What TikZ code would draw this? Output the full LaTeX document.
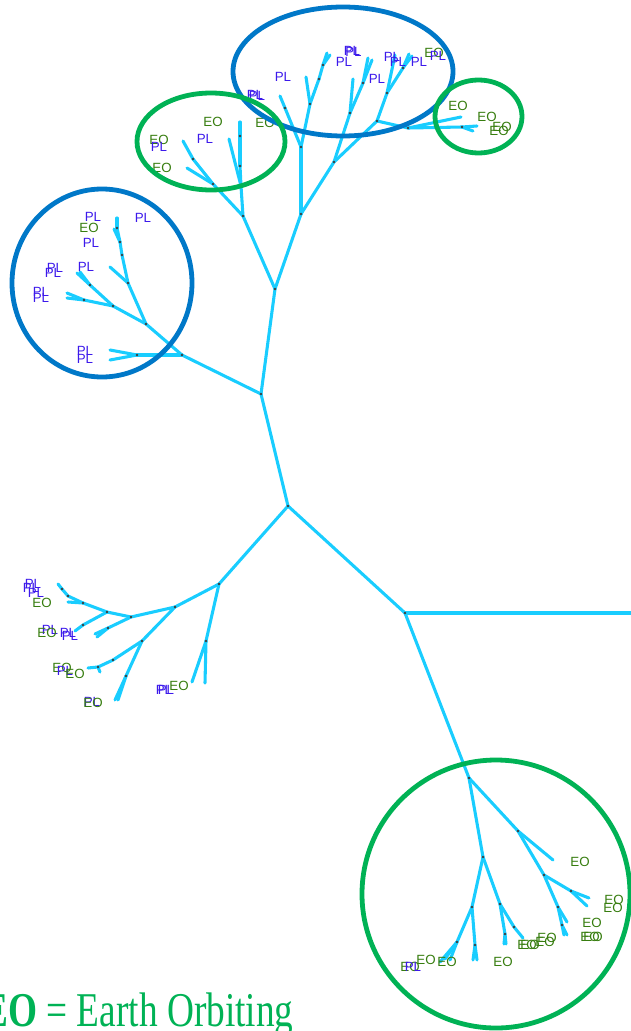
\documentclass[tikz,border=0pt]{standalone}
\usepackage{fontspec}
\setmainfont{Liberation Serif}
\newfontfamily\labfont{Liberation Sans}
\definecolor{brc}{RGB}{25,205,255}
\definecolor{plc}{RGB}{60,25,235}
\definecolor{eoc}{RGB}{55,125,15}
\definecolor{ringblue}{RGB}{0,120,200}
\definecolor{ringgreen}{RGB}{0,178,85}
\definecolor{dotc}{RGB}{60,60,60}
\begin{document}
\begin{tikzpicture}[x=0.75pt,y=-0.75pt,
  branch/.style={draw=brc,line width=2.3pt,line cap=round},
  pl/.style={text=plc,font=\labfont\fontsize{10}{11}\selectfont,inner sep=0pt},
  eo/.style={text=eoc,font=\labfont\fontsize{10}{11}\selectfont,inner sep=0pt},
  ringb/.style={draw=ringblue,line width=3.6pt},
  ringg/.style={draw=ringgreen,line width=3.6pt}]
\useasboundingbox (0,0) rectangle (631,1031);
\clip (0,0) rectangle (631,1031);
% ---------- tree points ----------
\coordinate (A) at (288,506);
\coordinate (B) at (261,394);
\coordinate (C) at (275,289);
\coordinate (D) at (182,355);
\coordinate (E) at (405,613);
\coordinate (Eend) at (640,613);
\coordinate (F) at (469,778);
\coordinate (G) at (219,584);
% top
\coordinate (H) at (243,216);
\coordinate (I) at (301,214);
\coordinate (J) at (301,147);
\coordinate (K) at (334,162);
\coordinate (J1) at (285,108);
\coordinate (t1) at (280,96);
\coordinate (J2) at (310,104);
\coordinate (t2) at (306,77);
\coordinate (J3) at (319,79);
\coordinate (J4) at (323,65);
\coordinate (t3) at (327,53);
\coordinate (t4) at (330,55);
\coordinate (K1) at (350,113);
\coordinate (t5) at (353,79);
\coordinate (K2) at (363,83);
\coordinate (t6) at (368,58);
\coordinate (t7) at (372,60);
\coordinate (N) at (377,121);
\coordinate (L) at (387,93);
\coordinate (t8) at (395,55);
\coordinate (L2) at (403,68);
\coordinate (t9) at (409,54);
\coordinate (t10) at (412,56);
\coordinate (P) at (408,128);
\coordinate (t11) at (461,117);
\coordinate (Q) at (462,127);
\coordinate (t12) at (477,126);
\coordinate (t13) at (473,131);
\coordinate (H1) at (213,184);
\coordinate (H2) at (193,159);
\coordinate (t14) at (183,141);
\coordinate (t15) at (187,168);
\coordinate (H3) at (240,166);
\coordinate (H4) at (240,136);
\coordinate (t16) at (240,122);
\coordinate (H5) at (241,186);
\coordinate (t17) at (229,139);
% left
\coordinate (D1) at (137,355);
\coordinate (t18) at (110,350);
\coordinate (t19) at (110,360);
\coordinate (D2) at (146,324);
\coordinate (D3) at (128,283);
\coordinate (D4) at (113,306);
\coordinate (D5) at (84,300);
\coordinate (t20) at (67,293);
\coordinate (t21) at (67,298);
\coordinate (D6) at (90,285);
\coordinate (t22) at (77,273);
\coordinate (t23) at (80,272);
\coordinate (t24) at (110,267);
\coordinate (D7) at (122,255);
\coordinate (D8) at (120,242);
\coordinate (D9) at (117,228);
\coordinate (t25) at (117,218);
\coordinate (t26) at (114,229);
% lower left
\coordinate (G1) at (206,641);
\coordinate (t27) at (192,682);
\coordinate (t28) at (205,683);
\coordinate (G2) at (175,607);
\coordinate (G3) at (131,617);
\coordinate (G4) at (142,641);
\coordinate (G5) at (126,676);
\coordinate (t29) at (115,700);
\coordinate (t30) at (118,700);
\coordinate (G6) at (113,660);
\coordinate (G7) at (98,667);
\coordinate (t31) at (88,668);
\coordinate (t32) at (100,672);
\coordinate (G8) at (107,612);
\coordinate (G9) at (83,603);
\coordinate (G10) at (68,596);
\coordinate (G11) at (62,589);
\coordinate (t33) at (58,584);
\coordinate (t34) at (68,602);
\coordinate (G12) at (83,625);
\coordinate (t35) at (75,631);
\coordinate (G13) at (108,628);
\coordinate (t36) at (95,634);
\coordinate (t37) at (97,637);
% bottom
\coordinate (F1) at (483,857);
\coordinate (F2) at (518,831);
\coordinate (t38) at (553,860);
\coordinate (F3) at (544,875);
\coordinate (F4) at (571,891);
\coordinate (t39) at (589,898);
\coordinate (t40) at (587,906);
\coordinate (F5) at (558,907);
\coordinate (t41) at (567,922);
\coordinate (F6) at (562,925);
\coordinate (t42) at (567,935);
\coordinate (t43) at (564,935);
\coordinate (F7) at (472,907);
\coordinate (F8) at (500,904);
\coordinate (F9) at (505,934);
\coordinate (t44) at (504,944);
\coordinate (t45) at (506,944);
\coordinate (F10) at (514,927);
\coordinate (t46) at (523,938);
\coordinate (F11) at (475,945);
\coordinate (t47) at (473,960);
\coordinate (t48) at (477,960);
\coordinate (F12) at (457,942);
\coordinate (t49) at (445,959);
\coordinate (t50) at (450,960);
\coordinate (t51) at (440,962);
% ---------- branches ----------
\foreach \a/\b in {A/B,B/C,B/D,A/E,E/Eend,E/F,A/G,
  C/H,C/I,I/J,I/K,J/J1,J1/t1,J/J2,J2/t2,J2/J3,J3/J4,J4/t3,J4/t4,
  K/K1,K1/t5,K1/K2,K2/t6,K2/t7,K/N,N/L,L/t8,L/L2,L2/t9,L2/t10,
  N/P,P/t11,P/Q,Q/t12,Q/t13,
  H/H1,H1/H2,H2/t14,H1/t15,H/H5,H5/H3,H3/H4,H4/t16,H5/t17,
  D/D1,D1/t18,D1/t19,D/D2,D2/D3,D2/D4,D4/D5,D5/t20,D5/t21,D4/D6,D6/t22,D6/t23,
  D3/t24,D3/D7,D7/D8,D8/D9,D9/t25,D8/t26,
  G/G1,G1/t27,G1/t28,G/G2,G2/G3,G2/G4,G4/G5,G5/t29,G5/t30,G4/G6,G6/G7,G7/t31,G7/t32,
  G3/G8,G8/G9,G9/G10,G10/G11,G11/t33,G9/t34,G8/G12,G12/t35,G3/G13,G13/t36,G13/t37,
  F/F1,F/F2,F2/t38,F2/F3,F3/F4,F4/t39,F4/t40,F3/F5,F5/t41,F5/F6,F6/t42,F6/t43,
  F1/F7,F1/F8,F8/F9,F9/t44,F9/t45,F8/F10,F10/t46,F7/F11,F11/t47,F11/t48,
  F7/F12,F12/t49,F12/t50,F12/t51}
  \draw[branch] (\a) -- (\b);
% ---------- internal dots ----------
\foreach \p in {A,B,C,D,E,F,G,H,I,J,K,J1,J2,J3,J4,K1,K2,N,L,L2,P,Q,H1,H2,H3,H4,
  D1,D2,D3,D4,D5,D6,D7,D8,D9,G1,G2,G3,G4,G5,G6,G7,G8,G9,G10,G11,G12,G13,
  F1,F2,F3,F4,F5,F6,F7,F8,F9,F10,F11,F12}
  \fill[dotc] (\p) circle (1.1pt);
% ---------- labels ----------
% top blue
\node[pl] (a1) at (283,77) {PL};
\node[pl] (a2) at (255,95) {PL};
\node[pl] (a3) at (257,96) {PL};
\node[eo] (a4) at (265,123) {EO};
\node[pl] (a5) at (344,62) {PL};
\node[pl] (a6) at (352,51) {PL};
\node[pl] (a7) at (353.5,52) {PL};
\node[pl] (a8) at (377,79) {PL};
\node[pl] (a9) at (392,57) {PL};
\node[pl] (a10) at (398,62) {PL};
\node[pl] (a11) at (419,62) {PL};
\node[eo] (a12) at (434,53) {EO};
\node[pl] (a13) at (438,56) {PL};
% small green
\node[eo] (b1) at (458,106) {EO};
\node[eo] (b2) at (487,117) {EO};
\node[eo] (b3) at (502,127) {EO};
\node[eo] (b4) at (499,131) {EO};
% middle green
\node[eo] (c1) at (213,122) {EO};
\node[eo] (c2) at (159,140) {EO};
\node[pl] (c3) at (159,147) {PL};
\node[pl] (c4) at (205,139) {PL};
\node[eo] (c5) at (162,168) {EO};
% left blue
\node[pl] (d1) at (93,217) {PL};
\node[eo] (d2) at (89,228) {EO};
\node[pl] (d3) at (143,218) {PL};
\node[pl] (d4) at (91,243) {PL};
\node[pl] (d5) at (55,268) {PL};
\node[pl] (d6) at (53,273) {PL};
\node[pl] (d7) at (86,267) {PL};
\node[pl] (d8) at (41,292) {PL};
\node[pl] (d9) at (41,298) {PL};
\node[pl] (d10) at (85,351) {PL};
\node[pl] (d11) at (85,359) {PL};
% lower left
\node[pl] (e1) at (33,584) {PL};
\node[pl] (e2) at (31,588) {PL};
\node[pl] (e3) at (36,593) {PL};
\node[eo] (e4) at (42,603) {EO};
\node[pl] (e5) at (50,630) {PL};
\node[eo] (e6) at (47,633) {EO};
\node[pl] (e7) at (68,633) {PL};
\node[pl] (e8) at (70,636) {PL};
\node[eo] (e9) at (62,668) {EO};
\node[pl] (e10) at (65,671) {PL};
\node[eo] (e11) at (75,674) {EO};
\node[pl] (e12) at (164,690) {PL};
\node[pl] (e13) at (166,690) {PL};
\node[eo] (e14) at (179,686) {EO};
\node[pl] (e15) at (92,702) {PL};
\node[eo] (e16) at (93,703) {EO};
% bottom green
\node[eo] (f1) at (580,862) {EO};
\node[eo] (f2) at (614,900) {EO};
\node[eo] (f3) at (613,908) {EO};
\node[eo] (f4) at (592,923) {EO};
\node[eo] (f5) at (590,937) {EO};
\node[eo] (f6) at (593,937) {EO};
\node[eo] (f7) at (547,938) {EO};
\node[eo] (f8) at (545,942) {EO};
\node[eo] (f9) at (530,945) {EO};
\node[eo] (f10) at (527,945) {EO};
\node[eo] (f11) at (503,962) {EO};
\node[eo] (f12) at (447,962) {EO};
\node[eo] (f13) at (426,960) {EO};
\node[eo] (f14) at (410,967) {EO};
\node[pl] (f15) at (413,967) {PL};
% ---------- rings ----------
\draw[ringb] (343,71.5) ellipse [x radius=110, y radius=64.5];
\draw[ringg] (478.5,116.5) ellipse [x radius=43.5, y radius=36.5];
\draw[ringg] (211,141.5) ellipse [x radius=74, y radius=48.5];
\draw[ringb] (102,283) ellipse [x radius=90, y radius=94];
\draw[ringg] (496,894) ellipse [x radius=134, y radius=134];
% ---------- legend ----------
\node[anchor=base west,inner sep=0pt,text=ringgreen] (legend) at (-17,1026)
  {\scalebox{1}[1.3]{\fontsize{28}{30}\selectfont\textbf{EO} = Earth Orbiting}};
\end{tikzpicture}
\end{document}
